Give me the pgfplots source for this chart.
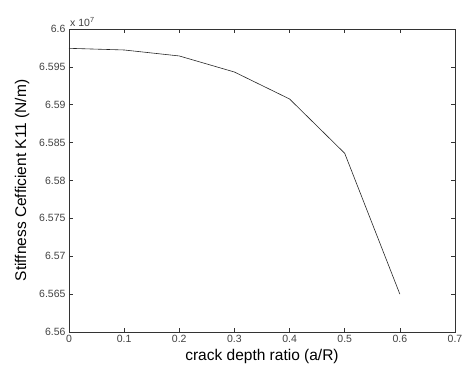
\documentclass[border=0pt]{standalone}
\usepackage{fontspec}
\setmainfont{Liberation Sans}
\usepackage{pgfplots}
\pgfplotsset{compat=1.18}
\begin{document}
\begin{tikzpicture}[x=1pt,y=1pt]
\path[use as bounding box] (-69,-40) rectangle (395,332);
\begin{axis}[
  at={(0,0)}, anchor=south west,
  scale only axis, width=386pt, height=303pt,
  xmin=0, xmax=0.7, ymin=6.56, ymax=6.6,
  xtick={0,0.1,...,0.7},
  ytick={6.56,6.565,...,6.6},
  scaled y ticks=false,
  tick align=inside, major tick length=4pt,
  axis line style={black!80, line width=0.6pt},
  tick style={black!80, line width=0.6pt},
  /pgf/number format/assume math mode=true,
  yticklabel style={/pgf/number format/.cd, fixed, precision=3, /tikz/.cd, font=\fontsize{10.5}{12}\selectfont, text=black!75},
  xticklabel style={/pgf/number format/.cd, fixed, precision=1, /tikz/.cd, font=\fontsize{10.5}{12}\selectfont, text=black!75},
  xlabel={crack depth ratio (a/R)},
  ylabel={Stiffness Cefficient K11 (N/m)},
  label style={font=\fontsize{15.5}{18}\selectfont},
  xlabel style={yshift=1pt},
  ylabel style={yshift=3pt},
  clip=false,
]
\addplot[black!85, line width=0.6pt] coordinates {
  (0,6.59745) (0.1,6.59723) (0.2,6.59644) (0.3,6.59432)
  (0.4,6.59076) (0.5,6.58359) (0.6,6.56500)
};
\node[anchor=south west, font=\fontsize{10.5}{12}\selectfont, text=black!75, inner sep=0pt] at (rel axis cs:0,1) [yshift=2pt, xshift=1pt] {x 10\textsuperscript{7}};
\end{axis}
\end{tikzpicture}
\end{document}
